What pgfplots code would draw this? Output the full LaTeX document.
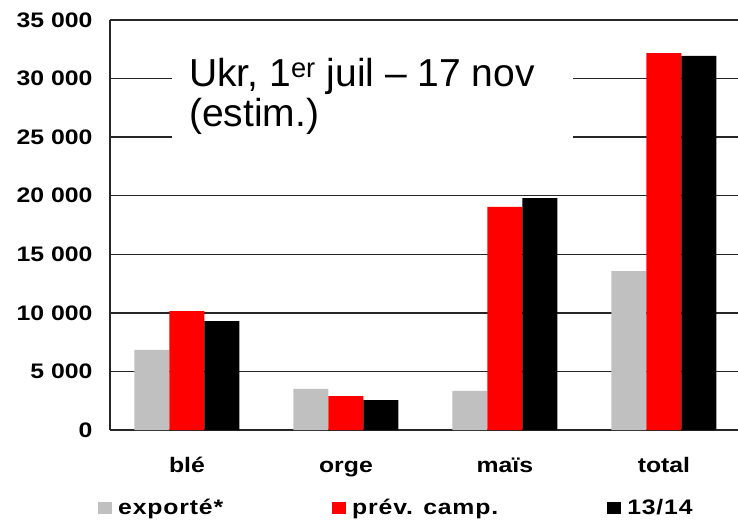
\documentclass[border=0pt]{standalone}
\usepackage{fontspec}
\setmainfont{Liberation Sans}
\newfontfamily\lblfont{Liberation Sans}[FakeStretch=1.18]
\newfontfamily\legfont{Liberation Sans}[FakeStretch=1.18, LetterSpace=4]
\usepackage{pgfplots}
\pgfplotsset{compat=1.18}
\definecolor{expgrey}{HTML}{C0C0C0}
\definecolor{prevred}{HTML}{FF0000}

% exports vs forecast vs last season, thousand t
\pgfplotstableread{
cat exp prev old
0 6830 10150 9300
1 3500 2900 2560
2 3330 19050 19800
3 13570 32180 31930
}\grains

\begin{document}
\begin{tikzpicture}[x=1pt,y=1pt]
\useasboundingbox (0,0) rectangle (738,519);
\begin{axis}[
  at={(110pt,89pt)}, anchor=south west,
  scale only axis, width=628pt, height=410pt,
  xmin=-0.484, xmax=3.466, ymin=0, ymax=35000,
  ybar=0pt, bar width=35pt,
  xtick={0,1,2,3}, xticklabels={blé,orge,maïs,total},
  ytick={0,5000,10000,15000,20000,25000,30000,35000},
  yticklabels={0,5 000,10 000,15 000,20 000,25 000,30 000,35 000},
  scaled y ticks=false,
  tick label style={font=\lblfont\bfseries\fontsize{21}{24}\selectfont},
  yticklabel style={xshift=-14pt},
  xticklabel style={yshift=-23pt, text height=16pt, text depth=5pt},
  major tick length=0pt,
  axis x line*=bottom, axis y line*=left,
  axis line style={-, line width=2pt, color=black!85},
  ymajorgrids, grid style={line width=1.5pt, color=black!85},
  legend columns=3,
  legend style={draw=none, fill=none, inner sep=0pt,
    at={(-0.0191,-0.1902)}, anchor=west,
    font=\legfont\bfseries\fontsize{21}{24}\selectfont,
    /tikz/every even column/.append style={column sep=107pt}},
  legend image code/.code={\fill[#1, draw=none] (0pt,-6pt) rectangle (14pt,6pt); \path (18pt,0pt);},
]
\addplot[fill=expgrey, draw=none] table[x=cat, y=exp] {\grains};
\addlegendentry{exporté*}
\addplot[fill=prevred, draw=none] table[x=cat, y=prev] {\grains};
\addlegendentry{prév. camp.}
\addplot[fill=black, draw=none] table[x=cat, y=old] {\grains};
\addlegendentry{13/14}
\end{axis}
% title box over the grid
\fill[white] (172,354) rectangle (573,479);
\node[anchor=base west, inner sep=0pt, font=\fontsize{39}{40}\selectfont] at (189,432) {Ukr, 1\textsuperscript{er} juil – 17 nov};
\node[anchor=base west, inner sep=0pt, font=\fontsize{39}{40}\selectfont] at (189,392) {(estim.)};
\end{tikzpicture}
\end{document}
